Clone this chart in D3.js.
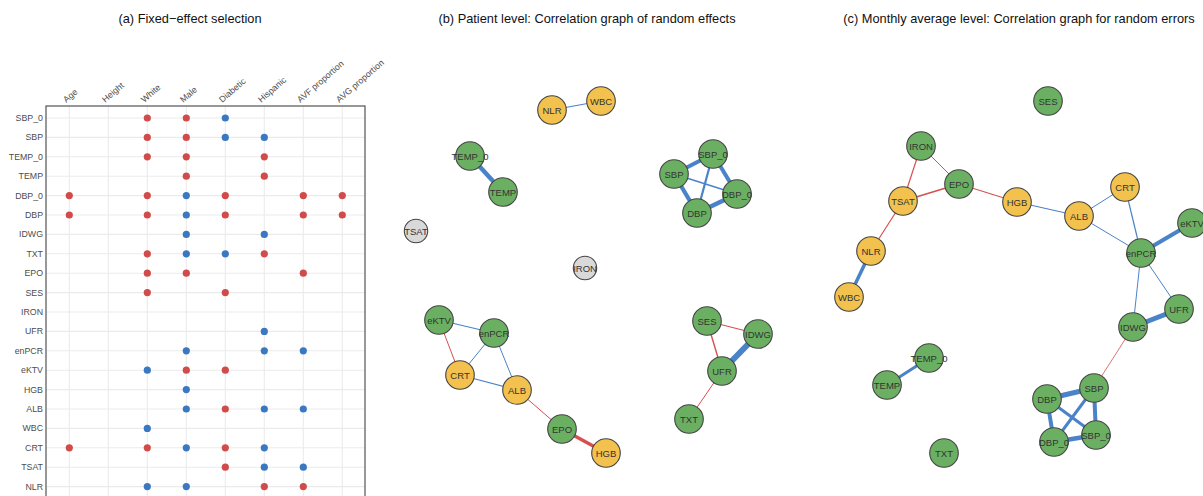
<!DOCTYPE html>
<html>
<head>
<meta charset="utf-8">
<script src="https://cdn.jsdelivr.net/npm/d3@7"></script>
<style>
  body { margin: 0; background: #fff; }
  svg { font-family: 'Liberation Sans', Arial, sans-serif; }
  .grid line { stroke: #ebebeb; stroke-width: 1.1; }
  .lab { fill: #4d4d4d; font-size: 8.8px; }
  .title { fill: #111; font-size: 12.8px; text-anchor: middle; }
  .node circle { stroke: #444; stroke-width: 1.1; }
  .node text { fill: #333; font-size: 9.5px; text-anchor: middle; dominant-baseline: central; }
</style>
</head>
<body>
<div id="chart"></div>
<script>
// (a) fixed effects: which covariate was selected for which response, sign
const covariates = ['Age', 'Height', 'White', 'Male', 'Diabetic', 'Hispanic', 'AVF proportion', 'AVG proportion']
const responses = ['SBP_0', 'SBP', 'TEMP_0', 'TEMP', 'DBP_0', 'DBP', 'IDWG', 'TXT', 'EPO', 'SES',
  'IRON', 'UFR', 'enPCR', 'eKTV', 'HGB', 'ALB', 'WBC', 'CRT', 'TSAT', 'NLR']
// [response, covariate, sign]
const selected = [
  ['SBP_0', 'White', -1], ['SBP_0', 'Male', -1], ['SBP_0', 'Diabetic', 1],
  ['SBP', 'White', -1], ['SBP', 'Male', -1], ['SBP', 'Diabetic', 1], ['SBP', 'Hispanic', 1],
  ['TEMP_0', 'White', -1], ['TEMP_0', 'Male', -1], ['TEMP_0', 'Hispanic', -1],
  ['TEMP', 'Male', -1], ['TEMP', 'Hispanic', -1],
  ['DBP_0', 'Age', -1], ['DBP_0', 'White', -1], ['DBP_0', 'Male', 1], ['DBP_0', 'Diabetic', -1], ['DBP_0', 'AVF proportion', -1], ['DBP_0', 'AVG proportion', -1],
  ['DBP', 'Age', -1], ['DBP', 'White', -1], ['DBP', 'Male', 1], ['DBP', 'Diabetic', -1], ['DBP', 'AVF proportion', -1], ['DBP', 'AVG proportion', -1],
  ['IDWG', 'Male', 1], ['IDWG', 'Hispanic', 1],
  ['TXT', 'White', -1], ['TXT', 'Male', 1], ['TXT', 'Diabetic', 1], ['TXT', 'Hispanic', -1],
  ['EPO', 'White', -1], ['EPO', 'Male', -1], ['EPO', 'AVF proportion', -1],
  ['SES', 'White', -1], ['SES', 'Diabetic', -1],
  ['UFR', 'Hispanic', 1],
  ['enPCR', 'Male', 1], ['enPCR', 'Hispanic', 1], ['enPCR', 'AVF proportion', 1],
  ['eKTV', 'White', 1], ['eKTV', 'Male', -1], ['eKTV', 'Diabetic', -1],
  ['HGB', 'Male', 1],
  ['ALB', 'Male', 1], ['ALB', 'Diabetic', -1], ['ALB', 'Hispanic', 1], ['ALB', 'AVF proportion', 1],
  ['WBC', 'White', 1],
  ['CRT', 'Age', -1], ['CRT', 'White', -1], ['CRT', 'Male', 1], ['CRT', 'Diabetic', -1], ['CRT', 'Hispanic', 1],
  ['TSAT', 'Diabetic', -1], ['TSAT', 'Hispanic', 1], ['TSAT', 'AVF proportion', 1],
  ['NLR', 'White', 1], ['NLR', 'Male', 1], ['NLR', 'Hispanic', -1], ['NLR', 'AVF proportion', -1]
]

// (b) patient level graph: layout [name, x, y, group]
const nodesB = [
  ['NLR', 152, 110, 'lab'], ['WBC', 201, 101, 'lab'], ['TEMP_0', 70, 156, 'vital'], ['TEMP', 103, 192, 'vital'],
  ['TSAT', 16, 231, 'alone'], ['IRON', 185, 268, 'alone'], ['SBP_0', 313, 154, 'vital'], ['SBP', 274, 174, 'vital'],
  ['DBP_0', 337, 194, 'vital'], ['DBP', 297, 213, 'vital'], ['eKTV', 39, 320, 'vital'], ['enPCR', 94, 333, 'vital'],
  ['CRT', 60, 375, 'lab'], ['ALB', 117, 390, 'lab'], ['EPO', 162, 429, 'vital'], ['HGB', 206, 453, 'lab'],
  ['SES', 307, 321, 'vital'], ['IDWG', 358, 334, 'vital'], ['UFR', 322, 371, 'vital'], ['TXT', 289, 419, 'vital']
]
// [from, to, partial correlation]
const edgesB = [
  ['NLR', 'WBC', 0.12], ['TEMP_0', 'TEMP', 0.45], ['SBP', 'SBP_0', 0.4], ['SBP_0', 'DBP_0', 0.4],
  ['SBP_0', 'DBP', 0.22], ['SBP', 'DBP', 0.42], ['SBP', 'DBP_0', 0.14], ['DBP', 'DBP_0', 0.45],
  ['eKTV', 'enPCR', 0.12], ['eKTV', 'CRT', -0.1], ['enPCR', 'CRT', 0.1], ['enPCR', 'ALB', 0.1],
  ['CRT', 'ALB', 0.12], ['ALB', 'EPO', -0.1], ['EPO', 'HGB', -0.35], ['SES', 'IDWG', -0.12],
  ['SES', 'UFR', -0.14], ['IDWG', 'UFR', 0.6], ['UFR', 'TXT', -0.1]
]

// (c) monthly average level graph
const nodesC = [
  ['SES', 228, 101, 'vital'], ['IRON', 101, 146, 'vital'], ['EPO', 139, 184, 'vital'], ['TSAT', 83, 201, 'lab'],
  ['HGB', 197, 202, 'lab'], ['ALB', 259, 216, 'lab'], ['CRT', 305, 187, 'lab'], ['eKTV', 372, 223, 'vital'],
  ['enPCR', 321, 253, 'vital'], ['NLR', 51, 251, 'lab'], ['WBC', 29, 297, 'lab'], ['UFR', 359, 309, 'vital'],
  ['IDWG', 313, 327, 'vital'], ['TEMP_0', 109, 358, 'vital'], ['TEMP', 67, 385, 'vital'], ['SBP', 274, 388, 'vital'],
  ['DBP', 227, 399, 'vital'], ['SBP_0', 276, 435, 'vital'], ['DBP_0', 234, 442, 'vital'], ['TXT', 124, 453, 'vital']
]
const edgesC = [
  ['IRON', 'EPO', 0.1], ['IRON', 'TSAT', -0.12], ['TSAT', 'EPO', -0.16], ['EPO', 'HGB', -0.12],
  ['TSAT', 'NLR', -0.12], ['NLR', 'WBC', 0.35], ['HGB', 'ALB', 0.12], ['ALB', 'CRT', 0.1],
  ['ALB', 'enPCR', 0.1], ['CRT', 'enPCR', 0.12], ['enPCR', 'eKTV', 0.4], ['enPCR', 'UFR', 0.1],
  ['enPCR', 'IDWG', 0.1], ['IDWG', 'UFR', 0.5], ['IDWG', 'SBP', -0.08], ['TEMP_0', 'TEMP', 0.3],
  ['SBP', 'DBP', 0.5], ['SBP', 'SBP_0', 0.4], ['SBP', 'DBP_0', 0.3], ['DBP', 'SBP_0', 0.3],
  ['DBP', 'DBP_0', 0.4], ['DBP_0', 'SBP_0', 0.45]
]

const W = 1203, H = 496
const svg = d3.select('#chart').append('svg').attr('width', W).attr('height', H)

const titles = [
  ['(a) Fixed\u2212effect selection', 190],
  ['(b) Patient level: Correlation graph of random effects', 587],
  ['(c) Monthly average level: Correlation graph for random errors', 1019]
]
svg.selectAll('text.title').data(titles).enter().append('text')
  .attr('class', 'title').attr('x', d => d[1]).attr('y', 23).text(d => d[0])

// ---- panel (a)
const pa = {left: 46, right: 365, top: 106, bottom: 520}
const x = d3.scalePoint().domain(covariates).range([69.3, 342.3])
const y = d3.scalePoint().domain(responses).range([118, 486.6])
const signColor = d3.scaleOrdinal().domain([-1, 1]).range(['#d24b4b', '#3b78c2'])

const ga = svg.append('g')
const grid = ga.append('g').attr('class', 'grid')
grid.selectAll('line.v').data(covariates).enter().append('line')
  .attr('x1', d => x(d)).attr('x2', d => x(d)).attr('y1', pa.top).attr('y2', pa.bottom)
grid.selectAll('line.h').data(responses).enter().append('line')
  .attr('x1', pa.left).attr('x2', pa.right).attr('y1', d => y(d)).attr('y2', d => y(d))

ga.append('rect')
  .attr('x', pa.left).attr('y', pa.top).attr('width', pa.right - pa.left).attr('height', pa.bottom - pa.top)
  .attr('fill', 'none').attr('stroke', '#444').attr('stroke-width', 1.1)

ga.selectAll('text.row').data(responses).enter().append('text')
  .attr('class', 'lab').attr('x', pa.left - 3).attr('y', d => y(d)).attr('dy', '0.35em')
  .attr('text-anchor', 'end').text(d => d)

ga.selectAll('text.col').data(covariates).enter().append('text')
  .attr('class', 'lab')
  .attr('transform', d => `translate(${x(d) - 3}, ${pa.top - 3}) rotate(-41)`)
  .text(d => d)

ga.selectAll('circle').data(selected).enter().append('circle')
  .attr('cx', d => x(d[1])).attr('cy', d => y(d[0])).attr('r', 3.6)
  .attr('fill', d => signColor(d[2]))

// ---- graphs
const nodeFill = {vital: '#6bb062', lab: '#f2c14e', alone: '#d9d9d9'}
const width = d3.scaleLinear().domain([0, 0.6]).range([0, 6])

function graph (nodes, edges, x0) {
  let gx = d3.scaleLinear().domain([0, 400]).range([x0, x0 + 400])
  let gy = d3.scaleLinear().domain([0, 496]).range([0, 496])
  let pos = {}
  nodes.forEach(n => pos[n[0]] = [gx(n[1]), gy(n[2])])
  let g = svg.append('g')
  g.selectAll('line').data(edges).enter().append('line')
    .attr('x1', d => pos[d[0]][0]).attr('y1', d => pos[d[0]][1])
    .attr('x2', d => pos[d[1]][0]).attr('y2', d => pos[d[1]][1])
    .attr('stroke', d => d[2] > 0 ? '#4a83c8' : '#d65050')
    .attr('stroke-width', d => width(Math.abs(d[2])))
  let node = g.selectAll('g.node').data(nodes).enter().append('g')
    .attr('class', 'node')
    .attr('transform', d => `translate(${pos[d[0]][0]}, ${pos[d[0]][1]})`)
  node.append('circle')
    .attr('r', d => d[3] === 'alone' ? 11.7 : 14.3)
    .attr('fill', d => nodeFill[d[3]])
  node.append('text').text(d => d[0])
}

graph(nodesB, edgesB, 400)
graph(nodesC, edgesC, 820)
</script>
</body>
</html>
